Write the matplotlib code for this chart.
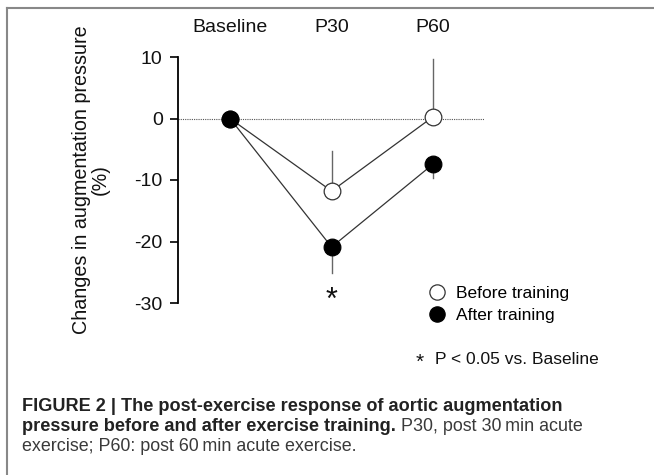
import matplotlib
matplotlib.use("Agg")
import matplotlib.pyplot as plt
from matplotlib.lines import Line2D

plt.rcParams['font.family'] = ['Liberation Sans', 'DejaVu Sans']

# ---- data ----
timepoints = ["Baseline", "P30", "P60"]
before_mean = [0.0, -11.8, 0.3]
before_sd = [0.0, 6.5, 9.3]      # drawn upward only
after_mean = [0.0, -20.9, -7.4]
after_sd = [0.0, 4.3, 2.3]       # drawn downward only
yticks = [10, 0, -10, -20, -30]
sig_index = [1]                  # P30 significant for after training
series_labels = ["Before training", "After training"]

W, H = 654, 475
fig = plt.figure(figsize=(W / 100, H / 100), dpi=100)

def fx(px):
    return px / W

def fy(py):
    return 1 - py / H

ax = fig.add_axes([fx(178), fy(303), fx(484) - fx(178), fy(57) - fy(303)])
x = list(range(len(timepoints)))
ax.set_xlim(-0.512, 2.5)
ax.set_ylim(-30, 10)

# zero reference line
ax.axhline(0, color='#555555', lw=0.8, ls=(0, (1, 1)), zorder=1)

# one-sided error bars
for xi, m, s in zip(x, before_mean, before_sd):
    if s > 0:
        ax.plot([xi, xi], [m, m + s], color='#666666', lw=1.0, zorder=2)
for xi, m, s in zip(x, after_mean, after_sd):
    if s > 0:
        ax.plot([xi, xi], [m, m - s], color='#666666', lw=1.0, zorder=2)

ax.plot(x, before_mean, color='#333333', lw=0.9, marker='o', ms=12,
        mfc='white', mec='#333333', mew=0.9, zorder=3)
ax.plot(x, after_mean, color='#333333', lw=0.9, marker='o', ms=12,
        mfc='black', mec='black', mew=0.9, zorder=4)

for i in sig_index:
    ax.text(x[i], -29.6, "*", ha='center', va='center', fontsize=22,
            color='#111111')

# axes styling
for sp in ['top', 'right', 'bottom']:
    ax.spines[sp].set_visible(False)
ax.spines['left'].set_linewidth(1.3)
ax.set_yticks(yticks)
ax.set_yticklabels([str(t) for t in yticks], fontsize=14, color='#111111')
ax.tick_params(axis='y', length=6, width=1.2, pad=5)
ax.xaxis.tick_top()
ax.set_xticks(x)
ax.set_xticklabels(timepoints, fontsize=14, color='#111111')
ax.tick_params(axis='x', length=0, pad=15)

fig.text(fx(91), fy(180), "Changes in augmentation pressure\n(%)",
         rotation=90, ha='center', va='center', fontsize=14.2,
         color='#111111', linespacing=1.0)

# legend
handles = [
    Line2D([], [], ls='none', marker='o', ms=11, mfc='white', mec='#333333', mew=0.9),
    Line2D([], [], ls='none', marker='o', ms=11, mfc='black', mec='black', mew=0.9),
]
fig.legend(handles, series_labels, loc='upper left',
           bbox_to_anchor=(fx(427), fy(286)), frameon=False, fontsize=12.5,
           handletextpad=0.45, handlelength=1.2, labelspacing=0.4,
           borderaxespad=0, borderpad=0)
fig.text(fx(420), fy(362), "*", ha='center', va='center', fontsize=15, color='#111111')
fig.text(fx(435), fy(360), "P < 0.05 vs. Baseline", ha='left', va='center',
         fontsize=12.5, color='#111111')

# border lines
fig.add_artist(Line2D([fx(7), 1.0], [fy(8), fy(8)], transform=fig.transFigure,
                      color='#888888', lw=1.5))
fig.add_artist(Line2D([fx(7), fx(7)], [fy(8), 0.0], transform=fig.transFigure,
                      color='#888888', lw=1.5))

# caption
bold_size = 13.1
reg_size = 12.9
fig.text(fx(22), fy(411), "FIGURE 2 | The post-exercise response of aortic augmentation",
         ha='left', va='baseline', fontsize=bold_size, fontweight='bold', color='#222222')
t2 = fig.text(fx(22), fy(431), "pressure before and after exercise training.",
              ha='left', va='baseline', fontsize=bold_size, fontweight='bold', color='#222222')
fig.canvas.draw()
r = fig.canvas.get_renderer()
bb = t2.get_window_extent(r)
fig.text(bb.x1 / W + fx(5), fy(431), "P30, post 30\u2009min acute",
         ha='left', va='baseline', fontsize=reg_size, color='#3a3a3a')
fig.text(fx(22), fy(451), "exercise; P60: post 60\u2009min acute exercise.",
         ha='left', va='baseline', fontsize=reg_size, color='#3a3a3a')

fig.savefig("out.png", dpi=100)
